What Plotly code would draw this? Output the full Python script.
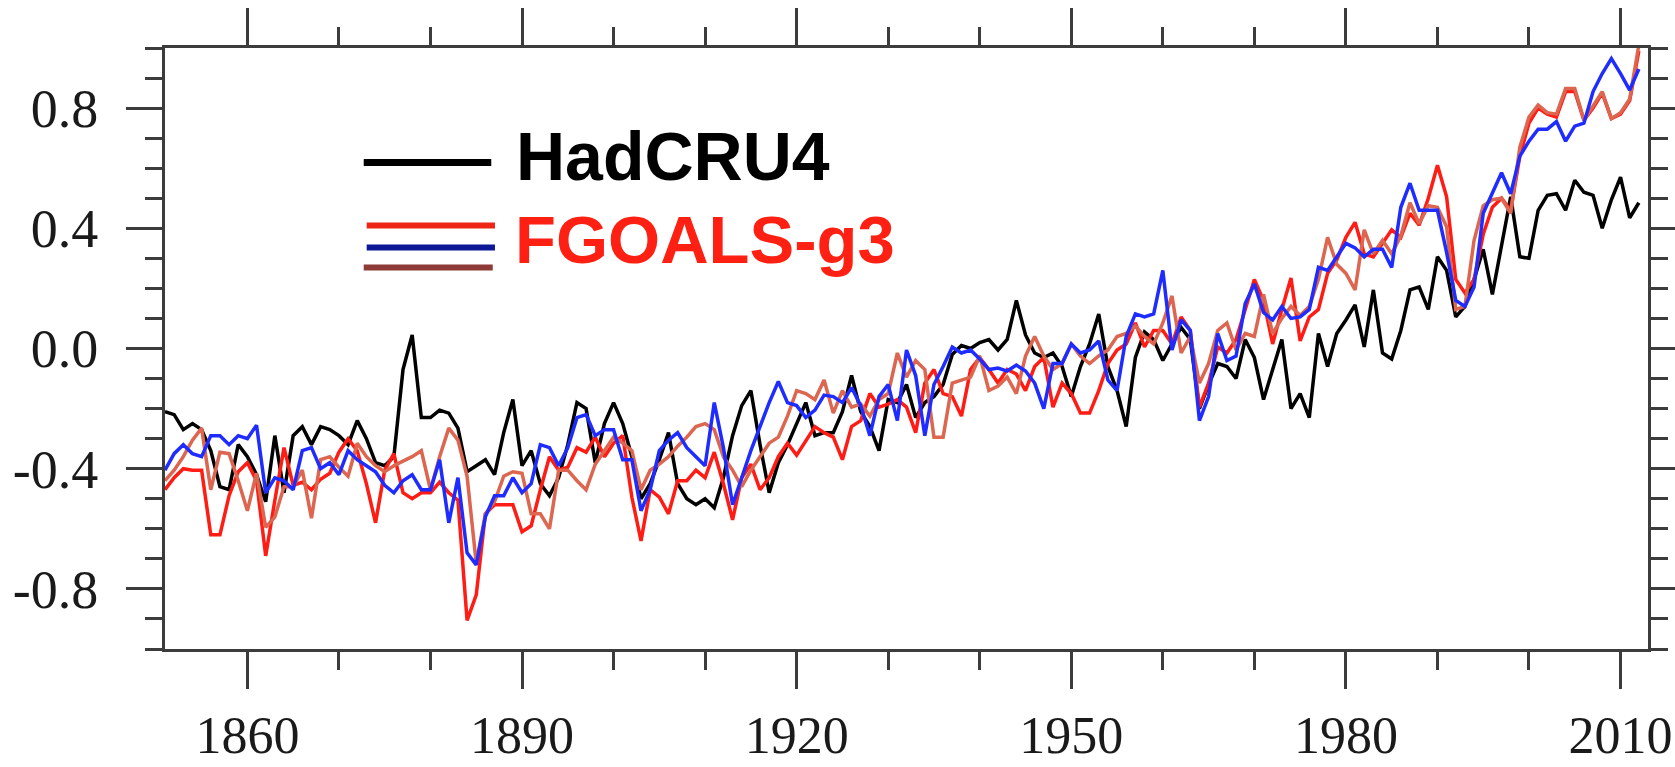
import plotly.graph_objects as go

years = list(range(1851, 2013))

hadcru4 = [
    -0.21, -0.22, -0.27, -0.25, -0.27, -0.34, -0.46, -0.47, -0.32, -0.36,
    -0.42, -0.51, -0.29, -0.48, -0.29, -0.26, -0.32, -0.26, -0.27, -0.29,
    -0.32, -0.24, -0.30, -0.38, -0.39, -0.36, -0.07, 0.045, -0.23, -0.23,
    -0.205, -0.215, -0.265, -0.41, -0.39, -0.37, -0.42, -0.28, -0.17, -0.39,
    -0.34, -0.45, -0.49, -0.43, -0.32, -0.18, -0.20, -0.38, -0.25, -0.18,
    -0.25, -0.36, -0.50, -0.45, -0.37, -0.28, -0.45, -0.50, -0.52, -0.50,
    -0.53, -0.43, -0.29, -0.19, -0.14, -0.32, -0.48, -0.38, -0.32, -0.25,
    -0.18, -0.29, -0.28, -0.28, -0.21, -0.09, -0.21, -0.26, -0.34, -0.17,
    -0.18, -0.12, -0.23, -0.18, -0.16, -0.12, -0.02, 0.01, 0.0, 0.02,
    0.03, -0.005, 0.03, 0.16, 0.045, -0.015, -0.03, -0.015, -0.06, -0.16,
    -0.06, 0.015, 0.115, -0.06, -0.14, -0.26, -0.03, 0.055, 0.03, -0.04,
    0.015, 0.07, 0.03, -0.20, -0.12, -0.05, -0.06, -0.10, 0.03, -0.03,
    -0.17, -0.07, 0.03, -0.20, -0.15, -0.23, 0.05, -0.06, 0.05, 0.095,
    0.145, 0.005, 0.195, -0.015, -0.035, 0.06, 0.195, 0.205, 0.13, 0.305,
    0.26, 0.105, 0.14, 0.23, 0.33, 0.18, 0.34, 0.505, 0.305, 0.30,
    0.46, 0.51, 0.515, 0.46, 0.56, 0.52, 0.51, 0.40, 0.495, 0.57,
    0.435, 0.485,
]

fgoals_r1 = [
    -0.47, -0.43, -0.40, -0.405, -0.405, -0.62, -0.62, -0.49, -0.41, -0.38,
    -0.44, -0.69, -0.505, -0.33, -0.455, -0.445, -0.47, -0.435, -0.415, -0.345,
    -0.30, -0.34, -0.45, -0.58, -0.405, -0.35, -0.48, -0.50, -0.48, -0.48,
    -0.445, -0.48, -0.505, -0.905, -0.82, -0.55, -0.52, -0.52, -0.52, -0.61,
    -0.59, -0.47, -0.36, -0.405, -0.395, -0.33, -0.345, -0.295, -0.36, -0.315,
    -0.29, -0.495, -0.64, -0.47, -0.495, -0.55, -0.44, -0.44, -0.405, -0.43,
    -0.345, -0.45, -0.57, -0.43, -0.385, -0.47, -0.43, -0.36, -0.315, -0.355,
    -0.305, -0.26, -0.28, -0.295, -0.37, -0.26, -0.24, -0.15, -0.195, -0.185,
    -0.17, -0.195, -0.28, -0.115, -0.07, -0.15, -0.16, -0.225, -0.07, -0.03,
    -0.07, -0.115, -0.07, -0.085, -0.14, -0.06, -0.03, -0.195, -0.115, -0.15,
    -0.215, -0.215, -0.14, -0.05, -0.005, 0.015, 0.085, 0.005, 0.06, 0.06,
    0.015, 0.105, 0.06, -0.195, -0.115, 0.005, -0.015, 0.03, 0.13, 0.23,
    0.16, 0.015, 0.13, 0.235, 0.025, 0.105, 0.13, 0.25, 0.295, 0.37,
    0.42, 0.315, 0.305, 0.35, 0.395, 0.37, 0.45, 0.41, 0.50, 0.61,
    0.505, 0.23, 0.185, 0.23, 0.38, 0.47, 0.50, 0.46, 0.64, 0.75,
    0.80, 0.78, 0.77, 0.855, 0.855, 0.76, 0.80, 0.85, 0.765, 0.78,
    0.825, 0.99,
]

fgoals_r2 = [
    -0.405, -0.35, -0.32, -0.35, -0.36, -0.29, -0.29, -0.32, -0.29, -0.30,
    -0.255, -0.48, -0.43, -0.44, -0.47, -0.34, -0.33, -0.40, -0.38, -0.42,
    -0.34, -0.37, -0.39, -0.41, -0.455, -0.48, -0.44, -0.42, -0.47, -0.47,
    -0.37, -0.58, -0.43, -0.68, -0.72, -0.56, -0.49, -0.49, -0.43, -0.48,
    -0.45, -0.32, -0.33, -0.39, -0.33, -0.23, -0.22, -0.29, -0.27, -0.27,
    -0.37, -0.37, -0.54, -0.47, -0.34, -0.305, -0.28, -0.33, -0.36, -0.39,
    -0.18, -0.33, -0.52, -0.43, -0.34, -0.26, -0.18, -0.11, -0.18, -0.19,
    -0.23, -0.205, -0.155, -0.16, -0.18, -0.13, -0.19, -0.29, -0.16, -0.12,
    -0.24, -0.005, -0.09, -0.29, -0.12, -0.06, 0.005, -0.015, -0.005, -0.035,
    -0.07, -0.065, -0.075, -0.055, -0.075, -0.115, -0.20, -0.05, -0.05, 0.015,
    -0.015, -0.005, 0.025, -0.105, -0.14, 0.04, 0.115, 0.105, 0.115, 0.26,
    -0.005, 0.095, 0.06, -0.24, -0.16, 0.05, -0.04, -0.025, 0.15, 0.215,
    0.12, 0.095, 0.14, 0.10, 0.105, 0.13, 0.27, 0.26, 0.305, 0.35,
    0.335, 0.305, 0.33, 0.33, 0.27, 0.47, 0.55, 0.46, 0.46, 0.46,
    0.32, 0.16, 0.14, 0.205, 0.45, 0.515, 0.585, 0.515, 0.64, 0.69,
    0.73, 0.73, 0.755, 0.69, 0.74, 0.75, 0.855, 0.915, 0.965, 0.915,
    0.86, 0.93,
]

fgoals_r3 = [
    -0.44, -0.405, -0.36, -0.305, -0.265, -0.47, -0.345, -0.35, -0.44, -0.54,
    -0.415, -0.595, -0.56, -0.46, -0.46, -0.405, -0.565, -0.37, -0.36, -0.395,
    -0.425, -0.315, -0.36, -0.39, -0.41, -0.39, -0.375, -0.36, -0.34, -0.47,
    -0.36, -0.265, -0.305, -0.425, -0.715, -0.55, -0.51, -0.425, -0.41, -0.415,
    -0.55, -0.55, -0.60, -0.405, -0.405, -0.44, -0.47, -0.385, -0.34, -0.295,
    -0.315, -0.34, -0.47, -0.405, -0.385, -0.36, -0.325, -0.295, -0.26, -0.25,
    -0.27, -0.36, -0.405, -0.46, -0.405, -0.36, -0.315, -0.295, -0.225, -0.14,
    -0.15, -0.17, -0.105, -0.215, -0.14, -0.195, -0.185, -0.225, -0.17, -0.15,
    -0.015, -0.095, -0.04, -0.07, -0.295, -0.295, -0.115, -0.105, -0.095, -0.025,
    -0.14, -0.125, -0.095, -0.15, -0.025, 0.04, -0.025, -0.07, -0.05, 0.015,
    -0.025, -0.05, -0.025, -0.005, 0.04, 0.05, 0.075, 0.04, 0.015, 0.085,
    0.175, -0.015, 0.04, -0.115, -0.05, 0.06, 0.085, -0.005, 0.05, 0.04,
    0.18, 0.05, 0.10, 0.14, 0.11, 0.14, 0.23, 0.37, 0.28, 0.25,
    0.195, 0.395, 0.315, 0.36, 0.315, 0.375, 0.485, 0.415, 0.475, 0.47,
    0.405, 0.13, 0.14, 0.36, 0.475, 0.495, 0.50, 0.45, 0.67, 0.77,
    0.81, 0.785, 0.78, 0.865, 0.865, 0.76, 0.805, 0.855, 0.765, 0.785,
    0.83, 1.01,
]

for s in (hadcru4, fgoals_r1, fgoals_r2, fgoals_r3):
    assert len(s) == len(years), len(s)

y_tickvals = [-0.8, -0.4, 0.0, 0.4, 0.8]
y_ticktext = ["-0.8", "-0.4", "0.0", "0.4", "0.8"]
x_tickvals = [1860, 1890, 1920, 1950, 1980, 2010]
x_ticktext = ["1860", "1890", "1920", "1950", "1980", "2010"]

fig = go.Figure()
series = [
    ("HadCRU4", hadcru4, "#000000"),
    ("FGOALS-g3 r1", fgoals_r1, "#ff1c14"),
    ("FGOALS-g3 r3", fgoals_r3, "#dc6650"),
    ("FGOALS-g3 r2", fgoals_r2, "#1f2cff"),
]
for name, vals, col in series:
    fig.add_trace(go.Scatter(x=years, y=vals, mode="lines", name=name,
                             line=dict(color=col, width=3.5), showlegend=False))

axis_col = "#3c3c3c"
x_tick_font = dict(family="Liberation Serif, Times New Roman, serif", size=52, color="#1a1a1a")
y_tick_font = dict(family="Liberation Serif, Times New Roman, serif", size=54, color="#1a1a1a")

fig.update_xaxes(
    range=[1851, 2013], tickvals=x_tickvals, ticktext=x_ticktext,
    ticks="outside", ticklen=37, tickwidth=3, tickcolor=axis_col,
    showline=True, linecolor=axis_col, linewidth=3, mirror="allticks",
    showgrid=False, zeroline=False, tickfont=x_tick_font, ticklabelstandoff=2,
    automargin=False,
    minor=dict(dtick=10, tick0=1850, ticks="outside", ticklen=18, tickwidth=2.5,
               tickcolor=axis_col, showgrid=False),
)
fig.update_yaxes(
    range=[-1, 1], tickvals=y_tickvals, ticktext=y_ticktext,
    ticks="outside", ticklen=36, tickwidth=3, tickcolor=axis_col,
    showline=True, linecolor=axis_col, linewidth=3, mirror="allticks",
    showgrid=False, zeroline=False, tickfont=y_tick_font, ticklabelstandoff=17,
    automargin=False,
    minor=dict(dtick=0.1, tick0=0, ticks="outside", ticklen=17, tickwidth=2.5,
               tickcolor=axis_col, showgrid=False),
)

# custom legend (decoration in paper coordinates)
legend_lines = [
    (0.134, 0.220, 0.8095, "#000000", 7),
    (0.136, 0.2225, 0.7047, "#ee2414", 6),
    (0.136, 0.2225, 0.668, "#0c1896", 6),
    (0.134, 0.221, 0.6347, "#8e3a36", 6),
]
shapes = []
for x0, x1, yy, col, w in legend_lines:
    shapes.append(dict(type="line", xref="paper", yref="paper", x0=x0, x1=x1,
                       y0=yy, y1=yy, line=dict(color=col, width=w)))
fig.update_layout(shapes=shapes)

fig.add_annotation(xref="paper", yref="paper", x=0.2353, y=0.821, xanchor="left",
                   yanchor="middle", showarrow=False, text="<b>HadCRU4</b>",
                   font=dict(family="Liberation Sans, Arial, sans-serif", size=68, color="#000000"))
fig.add_annotation(xref="paper", yref="paper", x=0.2345, y=0.682, xanchor="left",
                   yanchor="middle", showarrow=False, text="<b>FGOALS-g3</b>",
                   font=dict(family="Liberation Sans, Arial, sans-serif", size=67, color="#ff2014"))

fig.update_layout(
    width=1675, height=767,
    margin=dict(l=165, r=27, t=48, b=118),
    plot_bgcolor="white", paper_bgcolor="white",
    showlegend=False,
)

fig.write_html("out.html")
